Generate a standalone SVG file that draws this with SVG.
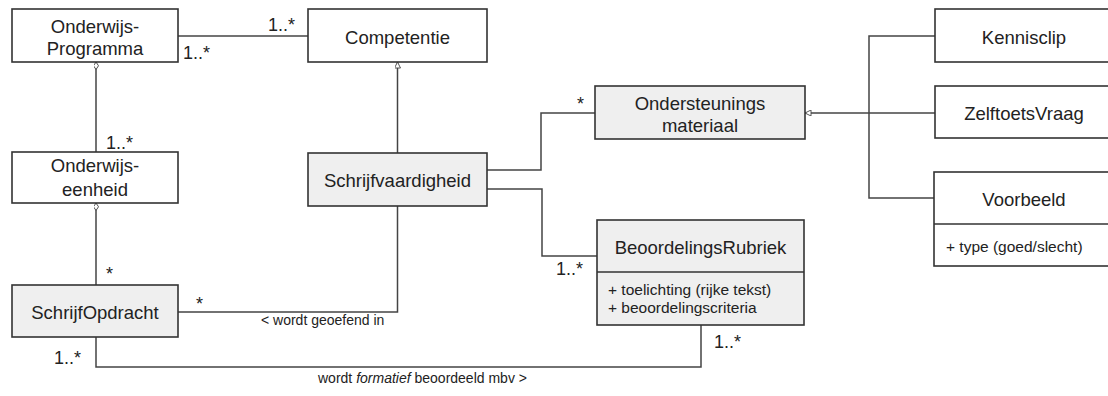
<svg xmlns="http://www.w3.org/2000/svg" width="1108" height="396" viewBox="0 0 1108 396">
<style>
.box{fill:#ffffff;stroke:#333333;stroke-width:1.6}
.gray{fill:#efefef;stroke:#333333;stroke-width:1.6}
.div{stroke:#333333;stroke-width:1.6;fill:none}
.t{font-family:"Liberation Sans",Arial,sans-serif;font-size:18.5px;fill:#222222;text-anchor:middle}
.a{font-family:"Liberation Sans",Arial,sans-serif;font-size:15.5px;fill:#222222}
.m{font-family:"Liberation Sans",Arial,sans-serif;font-size:18px;fill:#222222}
.ms{font-family:"Liberation Sans",Arial,sans-serif;font-size:18px;fill:#222222;text-anchor:middle}
.l{font-family:"Liberation Sans",Arial,sans-serif;font-size:14px;fill:#222222}
.c{fill:none;stroke:#444444;stroke-width:1.5}
</style>
<defs>
<marker id="tri" viewBox="0 0 10 10" refX="10" refY="5" markerWidth="8" markerHeight="6" orient="auto" markerUnits="userSpaceOnUse">
<path d="M0,0 L10,5 L0,10 Z" fill="#ffffff" stroke="#444444" stroke-width="1.5"/>
</marker>
<marker id="dia" viewBox="0 0 12 8" refX="12" refY="4" markerWidth="8" markerHeight="5" orient="auto" markerUnits="userSpaceOnUse">
<path d="M0,4 L6,0 L12,4 L6,8 Z" fill="#ffffff" stroke="#444444" stroke-width="1.5"/>
</marker>
</defs>

<g id="connectors">
<path class="c" d="M178,36 H308"/>
<path class="c" d="M96,152 V62" marker-end="url(#dia)"/>
<path class="c" d="M96,285 V203" marker-end="url(#dia)"/>
<path class="c" d="M397.5,153 V62" marker-end="url(#tri)"/>
<path class="c" d="M487,170 H541 V113 H595"/>
<path class="c" d="M487,189 H542 V256 H597"/>
<path class="c" d="M397.5,206 V312 H178"/>
<path class="c" d="M96,337 V367 H701 V325"/>
<path class="c" d="M935,36 H869 V198 H934"/>
<path class="c" d="M935,113 H805" marker-end="url(#tri)"/>
<text class="m" x="268" y="31">1..*</text>
<text class="m" x="183" y="59">1..*</text>
<text class="m" x="106" y="149">1..*</text>
<text class="ms" x="109.5" y="280">*</text>
<text class="ms" x="199.5" y="310">*</text>
<text class="m" x="54" y="364">1..*</text>
<text class="ms" x="580.5" y="110">*</text>
<text class="m" x="556" y="275">1..*</text>
<text class="m" x="714" y="348">1..*</text>
<text class="l" x="261" y="325">&lt; wordt geoefend in</text>
<text class="l" x="318" y="383">wordt <tspan font-style="italic">formatief</tspan> beoordeeld mbv &gt;</text>
</g>

<g id="onderwijsprogramma">
<rect class="box" x="12" y="9" width="166" height="53"/>
<text class="t" x="95" y="32.5">Onderwijs-</text>
<text class="t" x="95" y="55">Programma</text>
</g>

<g id="competentie">
<rect class="box" x="308" y="9" width="179" height="53"/>
<text class="t" x="397.5" y="43.5">Competentie</text>
</g>

<g id="onderwijseenheid">
<rect class="box" x="12" y="152" width="166" height="51"/>
<text class="t" x="95" y="172">Onderwijs-</text>
<text class="t" x="95" y="195.5">eenheid</text>
</g>

<g id="schrijfvaardigheid">
<rect class="gray" x="308" y="153" width="179" height="53"/>
<text class="t" x="397.5" y="186.5">Schrijfvaardigheid</text>
</g>

<g id="schrijfopdracht">
<rect class="gray" x="12" y="285" width="166" height="52"/>
<text class="t" x="95" y="319">SchrijfOpdracht</text>
</g>

<g id="ondersteuningsmateriaal">
<rect class="gray" x="595" y="86" width="210" height="53"/>
<text class="t" x="700" y="109.5">Ondersteunings</text>
<text class="t" x="700" y="132">materiaal</text>
</g>

<g id="beoordelingsrubriek">
<rect class="gray" x="597" y="220" width="207" height="105"/>
<path class="div" d="M597,272 H804"/>
<text class="t" x="700.5" y="254">BeoordelingsRubriek</text>
<text class="a" x="608" y="295">+ toelichting (rijke tekst)</text>
<text class="a" x="608" y="313">+ beoordelingscriteria</text>
</g>

<g id="kennisclip">
<rect class="box" x="935" y="9" width="178" height="53"/>
<text class="t" x="1024" y="43.5">Kennisclip</text>
</g>

<g id="zelftoetsvraag">
<rect class="box" x="935" y="86" width="178" height="52"/>
<text class="t" x="1024" y="120">ZelftoetsVraag</text>
</g>

<g id="voorbeeld">
<rect class="box" x="934" y="172" width="179" height="94"/>
<path class="div" d="M934,224 H1113"/>
<text class="t" x="1024" y="205.5">Voorbeeld</text>
<text class="a" x="946" y="252">+ type (goed/slecht)</text>
</g>
</svg>
